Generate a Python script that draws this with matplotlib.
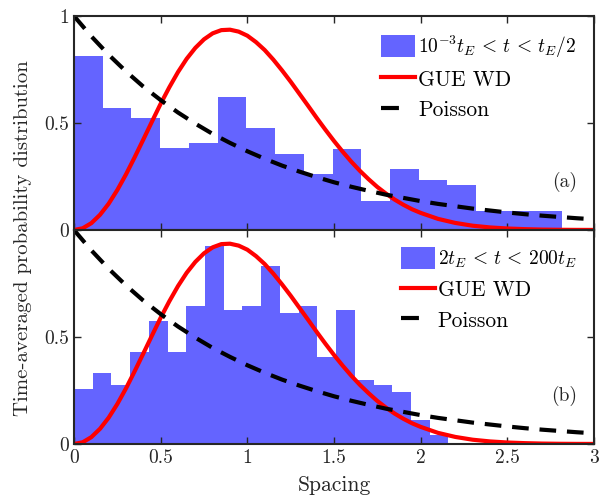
import numpy as np
import matplotlib
matplotlib.use("Agg")
import matplotlib.pyplot as plt
from matplotlib.patches import Patch
from matplotlib.lines import Line2D

plt.rcParams['font.family'] = 'serif'
plt.rcParams['font.serif'] = ['cmr10']
plt.rcParams['mathtext.fontset'] = 'cm'
plt.rcParams['axes.formatter.use_mathtext'] = True

# histogram (a): 10^-3 tE < t < tE/2, 17 bins over [0, 2.817]
hist_a_max = 2.817
hist_a = [0.813, 0.572, 0.525, 0.382, 0.405, 0.620, 0.478, 0.357, 0.260,
          0.380, 0.137, 0.284, 0.234, 0.210, 0.089, 0.089, 0.089]

# histogram (b): 2tE < t < 200tE, 20 bins over [0, 2.16]
hist_b_max = 2.16
hist_b = [0.259, 0.334, 0.278, 0.429, 0.573, 0.429, 0.647, 0.925, 0.628, 0.647,
          0.832, 0.611, 0.647, 0.408, 0.628, 0.297, 0.278, 0.242, 0.113, 0.042]

# GUE Wigner-Dyson curve
gue_s = [0, 0.05, 0.1, 0.15, 0.2, 0.25, 0.3, 0.35, 0.4, 0.45, 0.5, 0.55, 0.6, 0.65,
         0.7, 0.75, 0.8, 0.85, 0.9, 0.95, 1.0, 1.05, 1.1, 1.15, 1.2, 1.25, 1.3, 1.35,
         1.4, 1.45, 1.5, 1.55, 1.6, 1.65, 1.7, 1.75, 1.8, 1.85, 1.9, 1.95, 2.0,
         2.1, 2.2, 2.3, 2.4, 2.5, 2.6, 2.7, 2.8, 2.9, 3.0]
gue_p = [0, 0.008, 0.032, 0.071, 0.123, 0.187, 0.260, 0.340, 0.423, 0.507, 0.590,
         0.667, 0.738, 0.800, 0.851, 0.891, 0.919, 0.934, 0.936, 0.927, 0.908,
         0.878, 0.841, 0.796, 0.746, 0.693, 0.637, 0.581, 0.524, 0.469, 0.416,
         0.366, 0.319, 0.276, 0.237, 0.201, 0.170, 0.142, 0.118, 0.097, 0.080,
         0.052, 0.033, 0.020, 0.012, 0.007, 0.004, 0.002, 0.001, 0.0005, 0.0003]

# Poisson curve
poi_s = [0, 0.1, 0.2, 0.3, 0.4, 0.5, 0.6, 0.7, 0.8, 0.9, 1.0, 1.1, 1.2, 1.3, 1.4, 1.5,
         1.6, 1.7, 1.8, 1.9, 2.0, 2.1, 2.2, 2.3, 2.4, 2.5, 2.6, 2.7, 2.8, 2.9, 3.0]
poi_p = [1.0, 0.905, 0.819, 0.741, 0.670, 0.607, 0.549, 0.497, 0.449, 0.407, 0.368,
         0.333, 0.301, 0.273, 0.247, 0.223, 0.202, 0.183, 0.165, 0.150, 0.135,
         0.122, 0.111, 0.100, 0.091, 0.082, 0.074, 0.067, 0.061, 0.055, 0.050]

labels_a = r'$10^{-3}t_E \,<\, t \,<\, t_E/2$'
labels_b = r'$2t_E \,<\, t \,<\, 200t_E$'

fig = plt.figure(figsize=(6.06, 5.04), dpi=100)
ax_a = fig.add_axes([74/606, 1 - 230/504, 520/606, 214/504])
ax_b = fig.add_axes([74/606, 1 - 444/504, 520/606, 214/504])

bar_color = '#6464ff'
axis_color = '#262626'


def draw_panel(ax, heights, hmax, hist_label, tag):
    edges = np.linspace(0, hmax, len(heights) + 1)
    ax.bar(edges[:-1], heights, width=np.diff(edges), align='edge',
           color=bar_color, linewidth=0)
    ax.plot(gue_s, gue_p, color='red', linewidth=3)
    ax.plot(poi_s, poi_p, color='black', linewidth=3, linestyle=(0, (4, 2.6)))
    ax.set_xlim(0, 3)
    ax.set_ylim(0, 1)
    ax.tick_params(direction='in', top=True, right=True, length=5,
                   width=1, color=axis_color, labelsize=14, labelcolor=axis_color)
    for sp in ax.spines.values():
        sp.set_linewidth(1.5)
        sp.set_color(axis_color)
    handles = [Patch(facecolor=bar_color, edgecolor='none'),
               Line2D([], [], color='red', linewidth=3),
               Line2D([], [], color='black', linewidth=3, linestyle=(0, (4.3, 4)))]
    leg = ax.legend(handles, [hist_label, 'GUE WD', 'Poisson'], loc='upper right',
                    frameon=False, fontsize=14, handlelength=1.75, handleheight=1.35,
                    handletextpad=0.15, borderaxespad=0.5, labelspacing=0.45)
    # plain-text entries look a bit larger than the math one in the original
    for t in leg.get_texts()[1:]:
        t.set_fontsize(15.5)
    ax.text(0.967, 0.224, tag, transform=ax.transAxes, ha='right', va='center',
            fontsize=14, color=axis_color)


draw_panel(ax_a, hist_a, hist_a_max, labels_a, '(a)')
draw_panel(ax_b, hist_b, hist_b_max, labels_b, '(b)')

ax_a.set_yticks([0, 0.5, 1])
ax_a.set_yticklabels(['0', '0.5', '1'])
ax_a.set_xticks([0, 0.5, 1, 1.5, 2, 2.5, 3])
ax_a.set_xticklabels([])

ax_b.set_yticks([0, 0.5, 1])
ax_b.set_yticklabels(['0', '0.5', ''])
ax_b.set_xticks([0, 0.5, 1, 1.5, 2, 2.5, 3])
ax_b.set_xticklabels(['0', '0.5', '1', '1.5', '2', '2.5', '3'])
ax_b.set_xlabel('Spacing', fontsize=15.5, color=axis_color, labelpad=6)

fig.text(0.038, 1 - 238/504, 'Time-averaged probability distribution',
         rotation=90, ha='center', va='center', fontsize=15, color=axis_color)

fig.savefig('out.png', dpi=100)
